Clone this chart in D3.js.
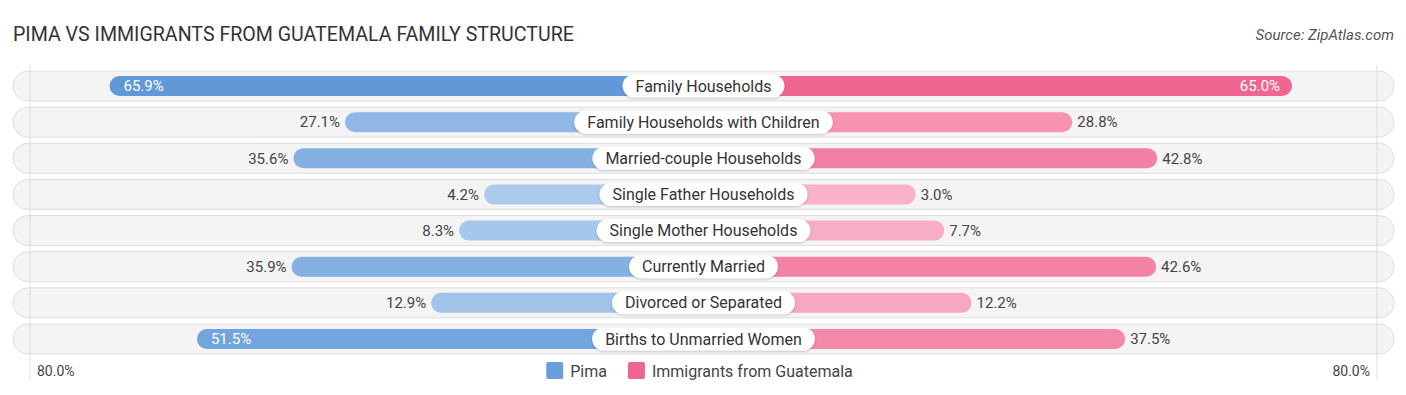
<!DOCTYPE html>
<html lang="en">
<head>
    <meta charset="UTF-8">
    <title>Pima vs Immigrants from Guatemala Family Structure</title>
    <script src="https://d3js.org/d3.v7.min.js"></script>
    <style>
        body { margin: 0; background: #fff; }
        svg { display: block; font-family: Roboto, "Noto Sans", sans-serif; }
    </style>
</head>
<body>
    <div id="chart"></div>
    <script>
        // data
        var categories = ["Family Households", "Family Households with Children", "Married-couple Households",
            "Single Father Households", "Single Mother Households", "Currently Married",
            "Divorced or Separated", "Births to Unmarried Women"];
        var pima = [65.9, 27.1, 35.6, 4.2, 8.3, 35.9, 12.9, 51.5];
        var guatemala = [65.0, 28.8, 42.8, 3.0, 7.7, 42.6, 12.2, 37.5];
        var seriesNames = ["Pima", "Immigrants from Guatemala"];
        var axisMax = 80;

        var W = 1406, H = 395, cx = 703.5;
        var svg = d3.select("#chart").append("svg").attr("width", W).attr("height", H);

        // distance from the centre line for a value
        var x = d3.scaleLinear().domain([0, axisMax]).range([194, 194 + axisMax * 6.07]);
        var y = d3.scalePoint().domain(categories).range([86, 339]);

        var blueCol = d3.scaleLinear().domain([0, 66]).range(["#b0cdee", "#6198d8"]);
        var pinkCol = d3.scaleLinear().domain([0, 66]).range(["#f9b6cb", "#f06590"]);

        var defs = svg.append("defs");
        var sh = defs.append("filter").attr("id", "sh").attr("x", "-10%").attr("y", "-40%").attr("width", "120%").attr("height", "180%");
        sh.append("feDropShadow").attr("dx", 0).attr("dy", 1).attr("stdDeviation", 1.2).attr("flood-color", "#000").attr("flood-opacity", 0.22);

        // title + source
        svg.append("text").attr("x", 13).attr("y", 41).attr("font-size", 19.6).attr("fill", "#333")
            .text("PIMA VS IMMIGRANTS FROM GUATEMALA FAMILY STRUCTURE");
        svg.append("text").attr("x", 1394).attr("y", 40).attr("text-anchor", "end").attr("font-size", 15)
            .attr("font-style", "italic").attr("fill", "#555").text("Source: ZipAtlas.com");

        var rows = svg.selectAll("g.row").data(categories).join("g").attr("class", "row")
            .attr("transform", function(d) { return "translate(0," + y(d) + ")"; });

        // background capsules
        rows.append("rect").attr("x", 13).attr("y", -15).attr("width", 1381).attr("height", 30).attr("rx", 15)
            .attr("fill", "#f4f4f4").attr("stroke", "#dedede").attr("stroke-width", 1);

        // faint gridlines at the axis ends
        [cx - 673.5, cx + 673.5].forEach(function(gx) {
            svg.append("line").attr("x1", gx).attr("x2", gx).attr("y1", 65).attr("y2", 380)
                .attr("stroke", "#ccc").attr("stroke-opacity", 0.6);
        });

        // bars
        rows.append("rect").attr("y", -10).attr("height", 20).attr("rx", 10)
            .attr("x", function(d, i) { return cx - x(pima[i]); })
            .attr("width", function(d, i) { return x(pima[i]); })
            .attr("fill", function(d, i) { return blueCol(pima[i]); });
        rows.append("rect").attr("y", -10).attr("height", 20).attr("rx", 10)
            .attr("x", cx)
            .attr("width", function(d, i) { return x(guatemala[i]); })
            .attr("fill", function(d, i) { return pinkCol(guatemala[i]); });

        // value labels
        var inside = 45;
        rows.append("text").attr("dy", "0.35em").attr("font-size", 15)
            .attr("x", function(d, i) { var e = cx - x(pima[i]); return pima[i] > inside ? e + 14 : e - 5; })
            .attr("text-anchor", function(d, i) { return pima[i] > inside ? "start" : "end"; })
            .attr("fill", function(d, i) { return pima[i] > inside ? "#fff" : "#444"; })
            .text(function(d, i) { return pima[i].toFixed(1) + "%"; });
        rows.append("text").attr("dy", "0.35em").attr("font-size", 15)
            .attr("x", function(d, i) { var e = cx + x(guatemala[i]); return guatemala[i] > inside ? e - 12 : e + 5; })
            .attr("text-anchor", function(d, i) { return guatemala[i] > inside ? "end" : "start"; })
            .attr("fill", function(d, i) { return guatemala[i] > inside ? "#fff" : "#444"; })
            .text(function(d, i) { return guatemala[i].toFixed(1) + "%"; });

        // centre label pills
        rows.each(function(d) {
            var g = d3.select(this);
            var pill = g.append("rect").attr("y", -11.5).attr("height", 23).attr("rx", 11.5)
                .attr("fill", "#fff").attr("filter", "url(#sh)");
            var t = g.append("text").attr("x", cx).attr("dy", "0.35em").attr("text-anchor", "middle")
                .attr("font-size", 16).attr("fill", "#333").text(d);
            var w = t.node().getComputedTextLength() + 26;
            pill.attr("x", cx - w / 2).attr("width", w);
        });

        // axis end labels
        svg.append("text").attr("x", 37).attr("y", 376).attr("font-size", 14).attr("fill", "#444").text(axisMax.toFixed(1) + "%");
        svg.append("text").attr("x", 1370).attr("y", 376).attr("text-anchor", "end").attr("font-size", 14).attr("fill", "#444").text(axisMax.toFixed(1) + "%");

        // legend
        var legend = svg.append("g");
        var lx = 0;
        seriesNames.forEach(function(name, i) {
            var item = legend.append("g").attr("transform", "translate(" + lx + ",0)");
            item.append("rect").attr("x", 0).attr("y", 362).attr("width", 17).attr("height", 17).attr("rx", 2)
                .attr("fill", i === 0 ? "#6a9fdc" : "#f06590");
            var t = item.append("text").attr("x", 24).attr("y", 376.5).attr("font-size", 16).attr("fill", "#444").text(name);
            lx += 24 + t.node().getComputedTextLength() + 21;
        });
        var lw = lx - 21;
        legend.attr("transform", "translate(" + (cx - 4 - lw / 2) + ",0)");
    </script>
</body>
</html>
